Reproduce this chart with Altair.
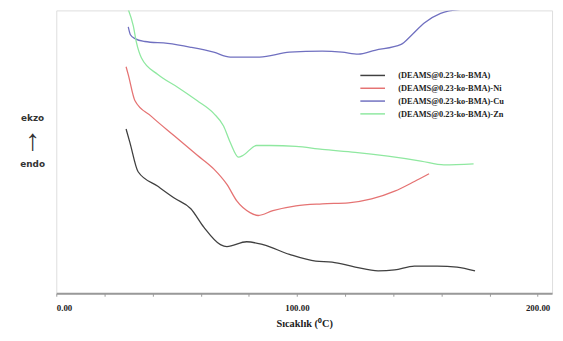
import altair as alt
import pandas as pd

# Series names
series_names = [
    "(DEAMS@0.23-ko-BMA)",
    "(DEAMS@0.23-ko-BMA)-Ni",
    "(DEAMS@0.23-ko-BMA)-Cu",
    "(DEAMS@0.23-ko-BMA)-Zn",
]
series_colors = ["#404040", "#e57373", "#7070c0", "#8fe8a0"]

# Temperature (°C) and DSC signal (arbitrary units, endo down)
t_base = [29.0, 30.6, 34.0, 42.2, 49.0, 55.9, 61.3, 68.2, 70.9, 79.1, 85.9, 96.9,
          107.8, 114.6, 124.2, 133.7, 140.6, 148.8, 158.3, 166.5, 174.0]
y_base = [169, 155, 125, 110, 98, 87, 68, 50, 48, 53, 50, 40,
          33, 32, 27, 23, 24, 28, 28, 27, 23]

t_ni = [29.0, 29.9, 32.7, 39.5, 49.0, 58.6, 65.4, 70.9, 75.0, 80.5, 83.9, 90.0,
        99.6, 110.5, 121.4, 131.0, 140.6, 148.8, 154.9]
y_ni = [233, 225, 198, 182, 162, 142, 128, 112, 95, 83, 80, 85,
        90, 92, 93, 97, 105, 115, 123]

t_cu = [29.9, 30.8, 32.7, 36.8, 46.3, 55.9, 65.4, 72.3, 77.7, 84.5, 96.9, 110.5,
        118.7, 125.5, 132.4, 143.3, 147.4, 152.9, 159.7, 168.0]
y_cu = [274, 266, 262, 259, 257, 253, 248, 243, 243, 243, 248, 249,
        248, 246, 250, 256, 265, 278, 288, 292]

t_zn = [29.9, 32.0, 33.3, 35.4, 42.2, 50.4, 58.6, 65.4, 69.5, 72.3, 75.7, 77.7,
        83.2, 88.7, 99.6, 110.5, 124.2, 137.8, 151.5, 161.1, 173.4]
y_zn = [292, 275, 258, 242, 225, 212, 198, 185, 172, 155, 140, 142,
        152, 152, 151, 148, 145, 141, 136, 132, 133]

rows = []
for name, ts, ys in zip(series_names, [t_base, t_ni, t_cu, t_zn], [y_base, y_ni, y_cu, y_zn]):
    for i, (t, y) in enumerate(zip(ts, ys)):
        rows.append({"series": name, "T": t, "signal": y, "order": i})
df = pd.DataFrame(rows)

x_ticks = list(range(0, 201, 20))

lines = alt.Chart(df).mark_line(strokeWidth=1.3, interpolate="monotone", clip=True).encode(
    x=alt.X("T:Q",
            scale=alt.Scale(domain=[0, 206], nice=False, zero=False),
            axis=alt.Axis(values=x_ticks,
                          labelExpr="datum.value % 100 === 0 ? format(datum.value, '.2f') : ''",
                          title="Sıcaklık (⁰C)",
                          grid=False, domainColor="#999999", domainWidth=2,
                          tickColor="#999999", tickSize=3,
                          labelFont="Liberation Serif", labelFontWeight="bold", labelFontSize=9,
                          labelColor="#222222", labelPadding=8,
                          titleFont="Liberation Serif", titleFontWeight="bold", titleFontSize=10.5,
                          titleColor="#222222", titlePadding=6)),
    y=alt.Y("signal:Q", scale=alt.Scale(domain=[0, 291], nice=False), axis=None),
    color=alt.Color("series:N",
                    scale=alt.Scale(domain=series_names, range=series_colors),
                    legend=alt.Legend(orient="none", legendX=315, legendY=60, title=None,
                                      symbolType="M-2.5,0L2.5,0", symbolSize=100,
                                      symbolStrokeWidth=1.5,
                                      labelFont="Liberation Serif", labelFontWeight="bold",
                                      labelFontSize=8.5, labelColor="#222222", labelOffset=20,
                                      rowPadding=2, padding=0)),
    order="order:Q",
)

ekzo = alt.Chart(pd.DataFrame({"t": ["ekzo"]})).mark_text(
    font="DejaVu Sans", fontSize=9, fontWeight="bold", color="#333333"
).encode(text="t:N", x=alt.value(-24), y=alt.value(109))
arrow = alt.Chart(pd.DataFrame({"t": ["↑"]})).mark_text(
    font="Liberation Sans", fontSize=30, color="#333333"
).encode(text="t:N", x=alt.value(-24), y=alt.value(133))
endo = alt.Chart(pd.DataFrame({"t": ["endo"]})).mark_text(
    font="DejaVu Sans", fontSize=9, fontWeight="bold", color="#333333"
).encode(text="t:N", x=alt.value(-24), y=alt.value(156))

chart = alt.layer(lines, ekzo, arrow, endo).properties(
    width=503, height=287,
    autosize=alt.AutoSizeParams(type="none"),
    padding={"left": 49, "top": 0, "right": 3, "bottom": 46},
).configure_view(stroke="#aaaaaa", strokeWidth=2).configure(background="white")

chart.save("out.html", embed_options={"renderer": "svg", "actions": False})
